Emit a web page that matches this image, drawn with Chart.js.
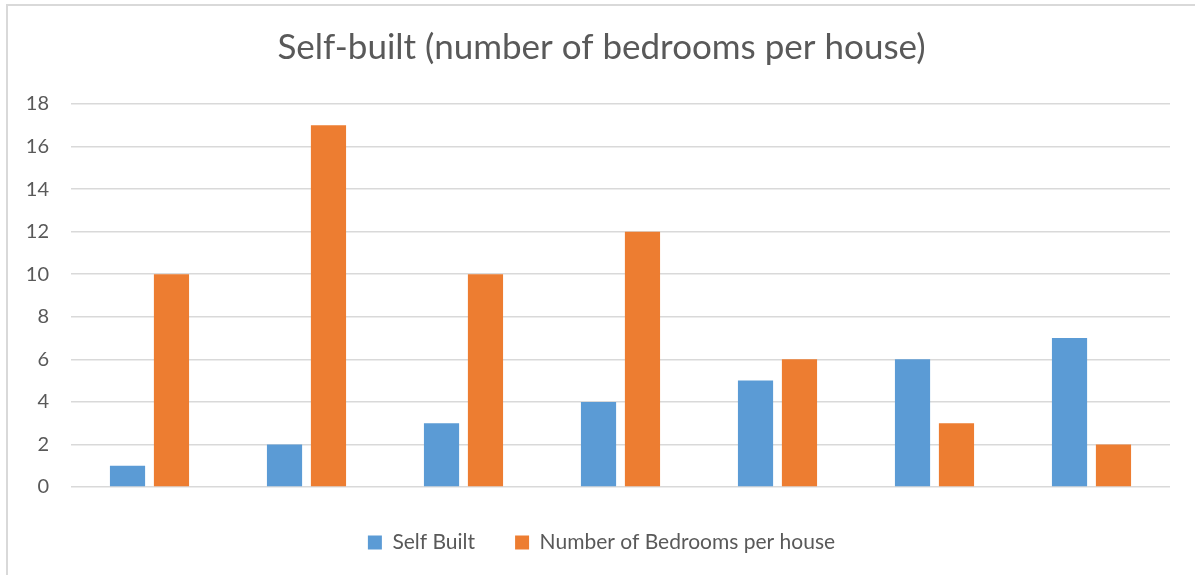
<!DOCTYPE html>
<html lang="en">
<head>
  <meta charset="UTF-8">
  <title>Self-built (number of bedrooms per house)</title>
  <script src="https://cdn.jsdelivr.net/npm/chart.js"></script>
  <style>
    body {
      margin: 0;
      background: #fff;
    }
    #chart-container {
      position: relative;
      width: 1195px;
      height: 575px;
    }
    #frame {
      position: absolute;
      left: 6px;
      top: 4px;
      width: 1200px;
      height: 600px;
      border-left: 2px solid #d9d9d9;
      border-top: 2px solid #d9d9d9;
      pointer-events: none;
    }
  </style>
</head>
<body>
  <div id="chart-container">
    <canvas id="myChart"></canvas>
    <div id="frame"></div>
  </div>

  <script>
    const categories = ['1', '2', '3', '4', '5', '6', '7'];
    const selfBuilt = [1, 2, 3, 4, 5, 6, 7];
    const bedrooms = [10, 17, 10, 12, 6, 3, 2];
    const yTicks = [0, 2, 4, 6, 8, 10, 12, 14, 16, 18];

    const textColor = '#595959';
    const fontFamily = 'Lato, "Open Sans", sans-serif';

    let ctx = document.getElementById('myChart').getContext('2d');
    let myChart = new Chart(ctx, {
      type: 'bar',
      data: {
        labels: categories,
        datasets: [{
          label: 'Self Built',
          data: selfBuilt,
          backgroundColor: '#5b9bd5',
          barPercentage: 0.8,
          categoryPercentage: 0.56
        }, {
          label: 'Number of Bedrooms per house',
          data: bedrooms,
          backgroundColor: '#ed7d31',
          barPercentage: 0.8,
          categoryPercentage: 0.56
        }]
      },
      options: {
        responsive: true,
        maintainAspectRatio: false,
        animation: false,
        layout: {
          padding: { left: 8, right: 0, top: 0, bottom: 12 }
        },
        plugins: {
          title: {
            display: true,
            text: 'Self-built (number of bedrooms per house)',
            color: textColor,
            font: { family: fontFamily, size: 35, weight: 'normal' },
            padding: { top: 27, bottom: 35 }
          },
          legend: {
            position: 'bottom',
            labels: {
              color: textColor,
              font: { family: fontFamily, size: 21 },
              boxWidth: 14,
              boxHeight: 14,
              padding: 40
            }
          },
          tooltip: { enabled: false }
        },
        scales: {
          x: {
            grid: { display: false },
            border: { display: false },
            ticks: { display: false },
            afterFit: (axis) => { axis.height = 5; }
          },
          y: {
            min: 0,
            max: 18,
            afterBuildTicks: (axis) => {
              axis.ticks = yTicks.map(v => ({ value: v }));
            },
            afterFit: (axis) => { axis.width = 63; },
            border: { display: false },
            grid: { color: '#d9d9d9', lineWidth: 1.5, drawTicks: false },
            ticks: {
              color: textColor,
              font: { family: fontFamily, size: 20 },
              padding: 22
            }
          },
          // empty right-hand axis, only to keep a margin on the right
          yRight: {
            position: 'right',
            grid: { display: false },
            border: { display: false },
            ticks: { display: false },
            afterFit: (axis) => { axis.width = 25; }
          }
        }
      }
    });
  </script>
</body>
</html>
